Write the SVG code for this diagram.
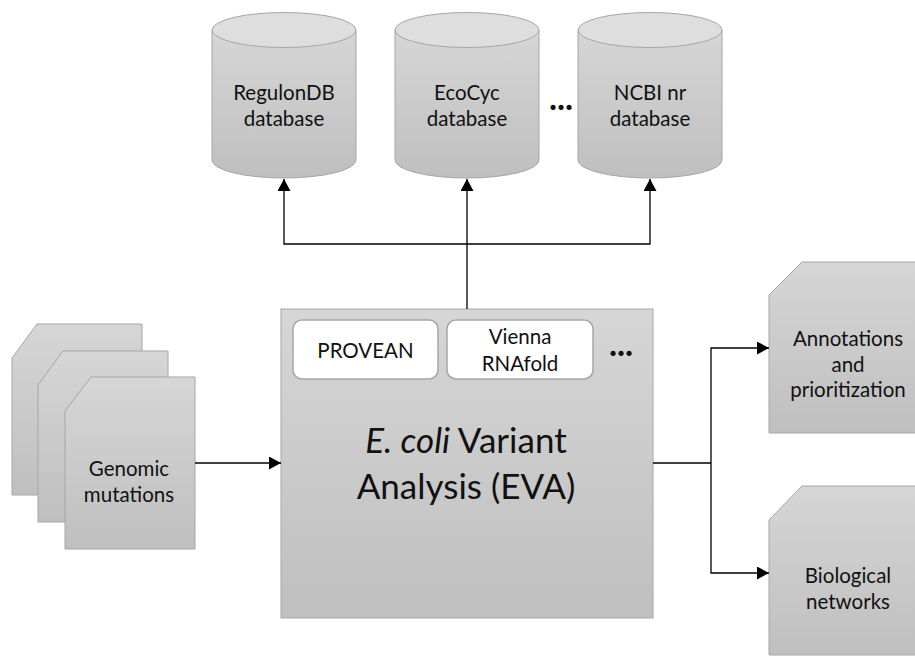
<svg xmlns="http://www.w3.org/2000/svg" width="915" height="656" viewBox="0 0 915 656">
<style>
  .shape { fill: url(#g); stroke: #a6a6a6; stroke-width: 1; }
  .top { fill: #dedede; stroke: #a6a6a6; stroke-width: 1; }
  .inner { fill: #ffffff; stroke: #a6a6a6; stroke-width: 1.5; }
  .t { font-family: Lato, "Liberation Sans", sans-serif; font-size: 20.5px; fill: #111; text-anchor: middle; }
  .big { font-size: 35px; }
  .dots { font-weight: bold; font-size: 34px; }
  .conn { fill: none; stroke: #000; stroke-width: 1.3; }
</style>
<defs>
  <linearGradient id="g" x1="0" y1="0" x2="0" y2="1">
    <stop offset="0" stop-color="#d6d6d6"/>
    <stop offset="1" stop-color="#bfbfbf"/>
  </linearGradient>
  <marker id="arr" markerUnits="userSpaceOnUse" markerWidth="12" markerHeight="13" refX="12" refY="6.5" orient="auto">
    <path d="M0,0 L12,6.5 L0,13 Z" fill="#000"/>
  </marker>
</defs>
<rect width="915" height="656" fill="#fff"/>

<g id="regulondb">
  <path class="shape" d="M212,30 L212,160 A72,18 0 0 0 356,160 L356,30 Z"/>
  <ellipse class="top" cx="284" cy="30" rx="72" ry="17.5"/>
  <text class="t" x="284" y="100">RegulonDB</text>
  <text class="t" x="284" y="126">database</text>
</g>
<g id="ecocyc">
  <path class="shape" d="M395,30 L395,160 A72,18 0 0 0 539,160 L539,30 Z"/>
  <ellipse class="top" cx="467" cy="30" rx="72" ry="17.5"/>
  <text class="t" x="467" y="100">EcoCyc</text>
  <text class="t" x="467" y="126">database</text>
</g>
<g id="dots-db">
  <text class="t dots" x="561" y="110">...</text>
</g>
<g id="ncbi">
  <path class="shape" d="M578,30 L578,160 A72,18 0 0 0 722,160 L722,30 Z"/>
  <ellipse class="top" cx="650" cy="30" rx="72" ry="17.5"/>
  <text class="t" x="650" y="100">NCBI nr</text>
  <text class="t" x="650" y="126">database</text>
</g>

<g id="genomic">
  <path class="shape" d="M12,358 L37,324 L142,324 L142,495 L12,495 Z"/>
  <path class="shape" d="M38,385 L63,351 L168,351 L168,522 L38,522 Z"/>
  <path class="shape" d="M65,411 L91,377 L195,377 L195,549 L65,549 Z"/>
  <text class="t" x="129" y="476">Genomic</text>
  <text class="t" x="129" y="502">mutations</text>
</g>

<g id="eva">
  <rect class="shape" x="281" y="309" width="372" height="309"/>
  <g id="provean">
    <rect class="inner" x="293" y="320" width="145" height="59" rx="9"/>
    <text class="t" x="365.5" y="358">PROVEAN</text>
  </g>
  <g id="vienna">
    <rect class="inner" x="447" y="320" width="146" height="59" rx="9"/>
    <text class="t" x="520" y="344">Vienna</text>
    <text class="t" x="520" y="371">RNAfold</text>
  </g>
  <text class="t dots" x="621" y="356">...</text>
  <text class="t big" x="466" y="453"><tspan font-style="italic">E. coli</tspan> Variant</text>
  <text class="t big" x="466" y="499">Analysis (EVA)</text>
</g>

<g id="annotations">
  <path class="shape" d="M769,295 L802,262 L917,262 L917,433 L769,433 Z"/>
  <text class="t" x="848" y="346">Annotations</text>
  <text class="t" x="848" y="372">and</text>
  <text class="t" x="848" y="397">prioritization</text>
</g>
<g id="networks">
  <path class="shape" d="M769,520 L802,486 L917,486 L917,655 L769,655 Z"/>
  <text class="t" x="848" y="583">Biological</text>
  <text class="t" x="848" y="609">networks</text>
</g>

<g id="connectors">
  <path class="conn" d="M467,309 V179" marker-end="url(#arr)"/>
  <path class="conn" d="M467,244 H284 V179" marker-end="url(#arr)"/>
  <path class="conn" d="M467,244 H650 V179" marker-end="url(#arr)"/>
  <path class="conn" d="M195,463 H281" marker-end="url(#arr)"/>
  <path class="conn" d="M653,463 H711"/>
  <path class="conn" d="M711,463 V348 H769" marker-end="url(#arr)"/>
  <path class="conn" d="M711,463 V573 H769" marker-end="url(#arr)"/>
</g>
</svg>
